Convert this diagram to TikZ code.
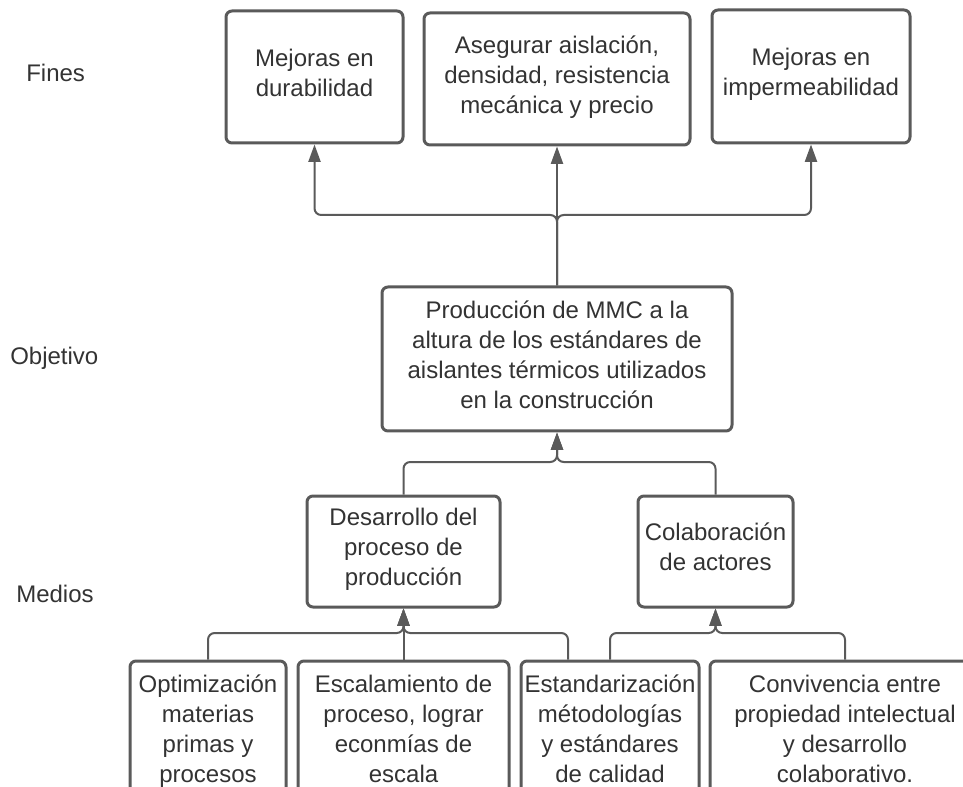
\documentclass[tikz,border=0pt]{standalone}
\usepackage{fontspec}
\setmainfont{Liberation Sans}
\usetikzlibrary{arrows.meta,calc}
\definecolor{ink}{HTML}{333333}
\definecolor{edge}{HTML}{5A5A5A}
\begin{document}
\begin{tikzpicture}[x=0.75pt,y=-0.75pt,
  box/.style={draw=edge, line width=2.25pt, rounded corners=4.5pt, fill=white,
    text=ink, align=center, font=\fontsize{18}{22.5}\selectfont, inner sep=0pt,
    execute at begin node=\strut, execute at end node=\strut},
  link/.style={draw=edge, line width=1.5pt, rounded corners=5pt,
    -{Triangle[length=13pt,width=9pt]}},
  tag/.style={text=ink, font=\fontsize{18}{22.5}\selectfont, anchor=base west, inner sep=0pt}]
\useasboundingbox (0,0) rectangle (963,787);
\clip (0,0) rectangle (963,787);

% row labels
\node[tag] (lfin) at (26,82) {Fines};
\node[tag] (lobj) at (10,365) {Objetivo};
\node[tag] (lmed) at (16,602) {Medios};

% ends
\node[box, minimum width=132.75pt, minimum height=99pt] (f1) at (314.5,77) {Mejoras en\\durabilidad};
\node[box, minimum width=199.5pt, minimum height=99pt] (f2) at (557,79) {Asegurar aislación,\\densidad, resistencia\\mecánica y precio};
\node[box, minimum width=148.5pt, minimum height=99.75pt] (f3) at (811,76.5) {Mejoras en\\impermeabilidad};

% objective
\node[box, minimum width=262.5pt, minimum height=108pt] (obj) at (557,359) {Producción de MMC a la\\altura de los estándares de\\aislantes térmicos utilizados\\en la construcción};

% means
\node[box, minimum width=144.75pt, minimum height=83.25pt] (m1) at (403.5,551.5) {Desarrollo del\\proceso de\\producción};
\node[box, minimum width=116.25pt, minimum height=83.25pt] (m2) at (715.5,551.5) {Colaboración\\de actores};

% sub-means
\node[box, minimum width=117pt, minimum height=108pt] (b1) at (208,733) {Optimización\\materias\\primas y\\procesos};
\node[box, minimum width=158.25pt, minimum height=108pt] (b2) at (403.5,733) {Escalamiento de\\proceso, lograr\\econmías de\\escala};
\node[box, minimum width=133.5pt, minimum height=108pt] (b3) at (610,733) {Estandarización\\métodologías\\y estándares\\de calidad};
\node[box, minimum width=202.5pt, minimum height=108pt] (b4) at (845,733) {Convivencia entre\\propiedad intelectual\\y desarrollo\\colaborativo.};

% bus levels
\coordinate (busA) at (0,215);
\coordinate (busB) at (0,462);
\coordinate (busC) at (0,633);
\coordinate (b3l) at ($(b3.north)+(-42,0)$);

% objective -> ends
\draw[link] (obj.north) -- (obj.north |- busA) -- (f1.south |- busA) -- (f1.south);
\draw[link] (obj.north) -- (f2.south);
\draw[link] (obj.north) -- (obj.north |- busA) -- (f3.south |- busA) -- (f3.south);

% means -> objective
\draw[link] (m1.north) -- (m1.north |- busB) -- (obj.south |- busB) -- (obj.south);
\draw[link] (m2.north) -- (m2.north |- busB) -- (obj.south |- busB) -- (obj.south);

% sub-means -> means
\draw[link] (b1.north) -- (b1.north |- busC) -- (m1.south |- busC) -- (m1.south);
\draw[link] (b2.north) -- (m1.south);
\draw[link] (b3l) -- (b3l |- busC) -- (m1.south |- busC) -- (m1.south);
\draw[link] (b3.north) -- (b3.north |- busC) -- (m2.south |- busC) -- (m2.south);
\draw[link] (b4.north) -- (b4.north |- busC) -- (m2.south |- busC) -- (m2.south);
\end{tikzpicture}
\end{document}
